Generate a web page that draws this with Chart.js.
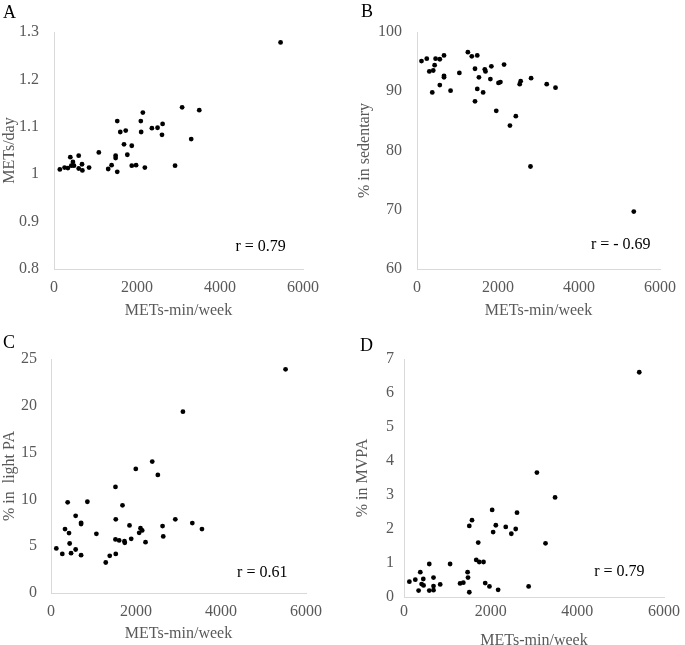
<!DOCTYPE html>
<html>
<head>
<meta charset="utf-8">
<script src="https://cdn.jsdelivr.net/npm/chart.js@4/dist/chart.umd.min.js"></script>
<style>
  html, body { margin: 0; padding: 0; background: #fff; overflow: hidden; }
  #page { position: relative; width: 685px; height: 645px; overflow: hidden; }
  .panel { position: absolute; }
  .letter { position: absolute; font-family: "Liberation Serif", serif; font-size: 18px; color: #000; line-height: 1; }
</style>
</head>
<body>
<div id="page">
  <canvas class="panel" id="chartA" width="340" height="322" style="left:0;top:0"></canvas>
  <canvas class="panel" id="chartB" width="345" height="322" style="left:340px;top:0"></canvas>
  <canvas class="panel" id="chartC" width="340" height="323" style="left:0;top:322px"></canvas>
  <canvas class="panel" id="chartD" width="345" height="330" style="left:340px;top:322px"></canvas>
  <div class="letter" style="left:3px;top:3px">A</div>
  <div class="letter" style="left:361px;top:2px">B</div>
  <div class="letter" style="left:3px;top:333px">C</div>
  <div class="letter" style="left:360px;top:336px">D</div>
</div>
<script>
// shared x axis
const xTicks = [0, 2000, 4000, 6000];
const xTitle = 'METs-min/week';

// A: METs/day
const metsA = [141, 255, 335, 393, 417, 456, 481, 595, 595, 675, 684, 845, 1080, 1306, 1388, 1485, 1485, 1524, 1524, 1597,
    1728, 1687, 1767, 1874, 1874, 1978, 2092, 2141, 2100, 2189, 2359, 2495, 2617, 2602, 2917, 3087, 3306, 3500, 5460];
const metsDayA = [1.010, 1.014, 1.013, 1.036, 1.018, 1.026, 1.018, 1.039, 1.012, 1.021, 1.008, 1.014, 1.046, 1.011, 1.019, 1.039, 1.034, 1.005, 1.112, 1.089,
    1.092, 1.063, 1.041, 1.060, 1.018, 1.019, 1.112, 1.130, 1.089, 1.014, 1.097, 1.098, 1.106, 1.083, 1.018, 1.141, 1.074, 1.135, 1.278];
const yTicksA = [0.8, 0.9, 1, 1.1, 1.2, 1.3];

// B: % in sedentary
const metsB = [111, 241, 304, 401, 377, 435, 459, 563, 563, 667, 667, 667, 829, 1046, 1256, 1353, 1488, 1432, 1488, 1432,
    1529, 1633, 1674, 1691, 1812, 1836, 1957, 2012, 2060, 2150, 2295, 2440, 2536, 2560, 2817, 3203, 3420, 2802, 5353];
const sedentaryB = [95.1, 95.5, 93.35, 93.5, 89.8, 94.4, 95.5, 95.4, 91.05, 96.05, 92.6, 92.35, 90.1, 93.1, 96.6, 95.9, 96.05, 93.8, 90.4, 88.3,
    92.35, 89.8, 93.7, 93.35, 92.05, 94.2, 86.7, 91.4, 91.55, 94.5, 84.2, 85.8, 91.2, 91.7, 92.2, 91.2, 90.6, 77.3, 69.7];
const yTicksB = [60, 70, 80, 90, 100];

// C: % in light PA
const metsC = [125, 266, 330, 392, 424, 439, 472, 580, 580, 708, 708, 708, 856, 1068, 1288, 1382, 1517, 1524, 1517, 1524,
    1604, 1682, 1729, 1736, 1847, 1887, 1995, 2075, 2106, 2146, 2224, 2382, 2514, 2625, 2641, 2925, 3325, 3552, 3104, 5519];
const lightC = [4.76, 4.18, 6.83, 9.69, 6.40, 5.29, 4.25, 8.25, 4.65, 7.50, 7.36, 4.04, 9.75, 6.32, 3.26, 3.97, 11.33, 7.87, 5.72, 4.18,
    5.62, 9.37, 5.54, 5.36, 7.22, 5.79, 13.26, 6.43, 6.93, 6.69, 5.43, 14.04, 12.61, 7.15, 6.04, 7.87, 7.47, 6.83, 19.37, 23.9];
const yTicksC = [0, 5, 10, 15, 20, 25];

// D: % in MVPA
const metsD = [124, 261, 337, 376, 406, 452, 445, 583, 583, 681, 681, 681, 835, 1064, 1294, 1369, 1468, 1477, 1507, 1507,
    1569, 1713, 1667, 1736, 1835, 1874, 1972, 2034, 2057, 2119, 2172, 2348, 2477, 2578, 2608, 2876, 3266, 3067, 3486, 5429];
const mvpaD = [0.45, 0.51, 0.19, 0.73, 0.38, 0.34, 0.53, 0.97, 0.19, 0.57, 0.32, 0.20, 0.37, 0.97, 0.40, 0.42, 0.73, 0.57, 0.14, 2.09,
    2.26, 1.60, 1.09, 1.03, 1.03, 0.41, 0.31, 2.56, 1.91, 2.11, 0.21, 2.06, 1.86, 2.00, 2.48, 0.31, 1.58, 3.66, 2.93, 6.61];
const yTicksD = [0, 1, 2, 3, 4, 5, 6, 7];

const grey = '#595959';
const axisFont = { family: 'Liberation Serif', size: 16 };

// writes the r value at a data position
const rLabel = {
    id: 'rLabel',
    afterDatasetsDraw(chart, args, opts) {
        const ctx = chart.ctx;
        ctx.save();
        ctx.font = '16px "Liberation Serif"';
        ctx.fillStyle = '#000';
        ctx.textAlign = 'center';
        ctx.textBaseline = 'middle';
        ctx.fillText(opts.text, chart.scales.x.getPixelForValue(opts.x), chart.scales.y.getPixelForValue(opts.y));
        ctx.restore();
    }
};

function makePanel(id, xs, ys, yTicks, yTitle, r, box) {
    const canvas = document.getElementById(id);
    const w = canvas.width, h = canvas.height;
    return new Chart(canvas, {
        type: 'scatter',
        data: {
            datasets: [{
                data: xs.map((x, i) => ({ x: x, y: ys[i] })),
                backgroundColor: '#000',
                borderColor: '#000',
                pointRadius: 2.4,
                pointBorderWidth: 0
            }]
        },
        options: {
            responsive: false,
            animation: false,
            layout: { padding: { left: 0, top: box.top, right: w - box.right, bottom: 0 } },
            plugins: {
                legend: { display: false },
                tooltip: { enabled: false },
                rLabel: r
            },
            scales: {
                x: {
                    type: 'linear',
                    min: xTicks[0],
                    max: xTicks[xTicks.length - 1],
                    afterBuildTicks: a => { a.ticks = xTicks.map(v => ({ value: v })); },
                    afterFit: a => { a.height = h - box.bottom; },
                    grid: { display: false, drawTicks: false },
                    border: { color: '#d9d9d9', width: 1 },
                    ticks: { color: grey, font: axisFont, padding: box.xTickPad, maxRotation: 0, callback: v => String(v) },
                    title: { display: true, text: xTitle, color: grey, font: axisFont, padding: { top: 0, bottom: box.xTitlePad } }
                },
                y: {
                    type: 'linear',
                    min: yTicks[0],
                    max: yTicks[yTicks.length - 1],
                    afterBuildTicks: a => { a.ticks = yTicks.map(v => ({ value: v })); },
                    afterFit: a => { a.width = box.left; },
                    grid: { display: false, drawTicks: false },
                    border: { color: '#d9d9d9', width: 1 },
                    ticks: { color: grey, font: axisFont, padding: box.yTickPad, callback: v => String(v) },
                    title: { display: true, text: yTitle, color: grey, font: axisFont, padding: { top: box.yTitlePad, bottom: 0 } }
                }
            }
        },
        plugins: [rLabel]
    });
}

makePanel('chartA', metsA, metsDayA, yTicksA, 'METs/day', { text: 'r = 0.79', x: 4980, y: 0.846 },
    { left: 54, right: 303, top: 32, bottom: 269, yTickPad: 15, yTitlePad: 0, xTickPad: 9, xTitlePad: 2 });
makePanel('chartB', metsB, sedentaryB, yTicksB, '% in sedentary', { text: 'r = - 0.69', x: 5030, y: 64.1 },
    { left: 77, right: 325, top: 32, bottom: 269, yTickPad: 15, yTitlePad: 15, xTickPad: 9, xTitlePad: 2 });
makePanel('chartC', metsC, lightC, yTicksC, '% in  light PA', { text: 'r = 0.61', x: 4970, y: 2.2 },
    { left: 51, right: 306, top: 37, bottom: 271, yTickPad: 14, yTitlePad: 0, xTickPad: 9, xTitlePad: 2 });
makePanel('chartD', metsD, mvpaD, yTicksD, '% in MVPA', { text: 'r = 0.79', x: 4970, y: 0.73 },
    { left: 64, right: 325, top: 37, bottom: 275, yTickPad: 10, yTitlePad: 13, xTickPad: 5, xTitlePad: 2 });
</script>
</body>
</html>
